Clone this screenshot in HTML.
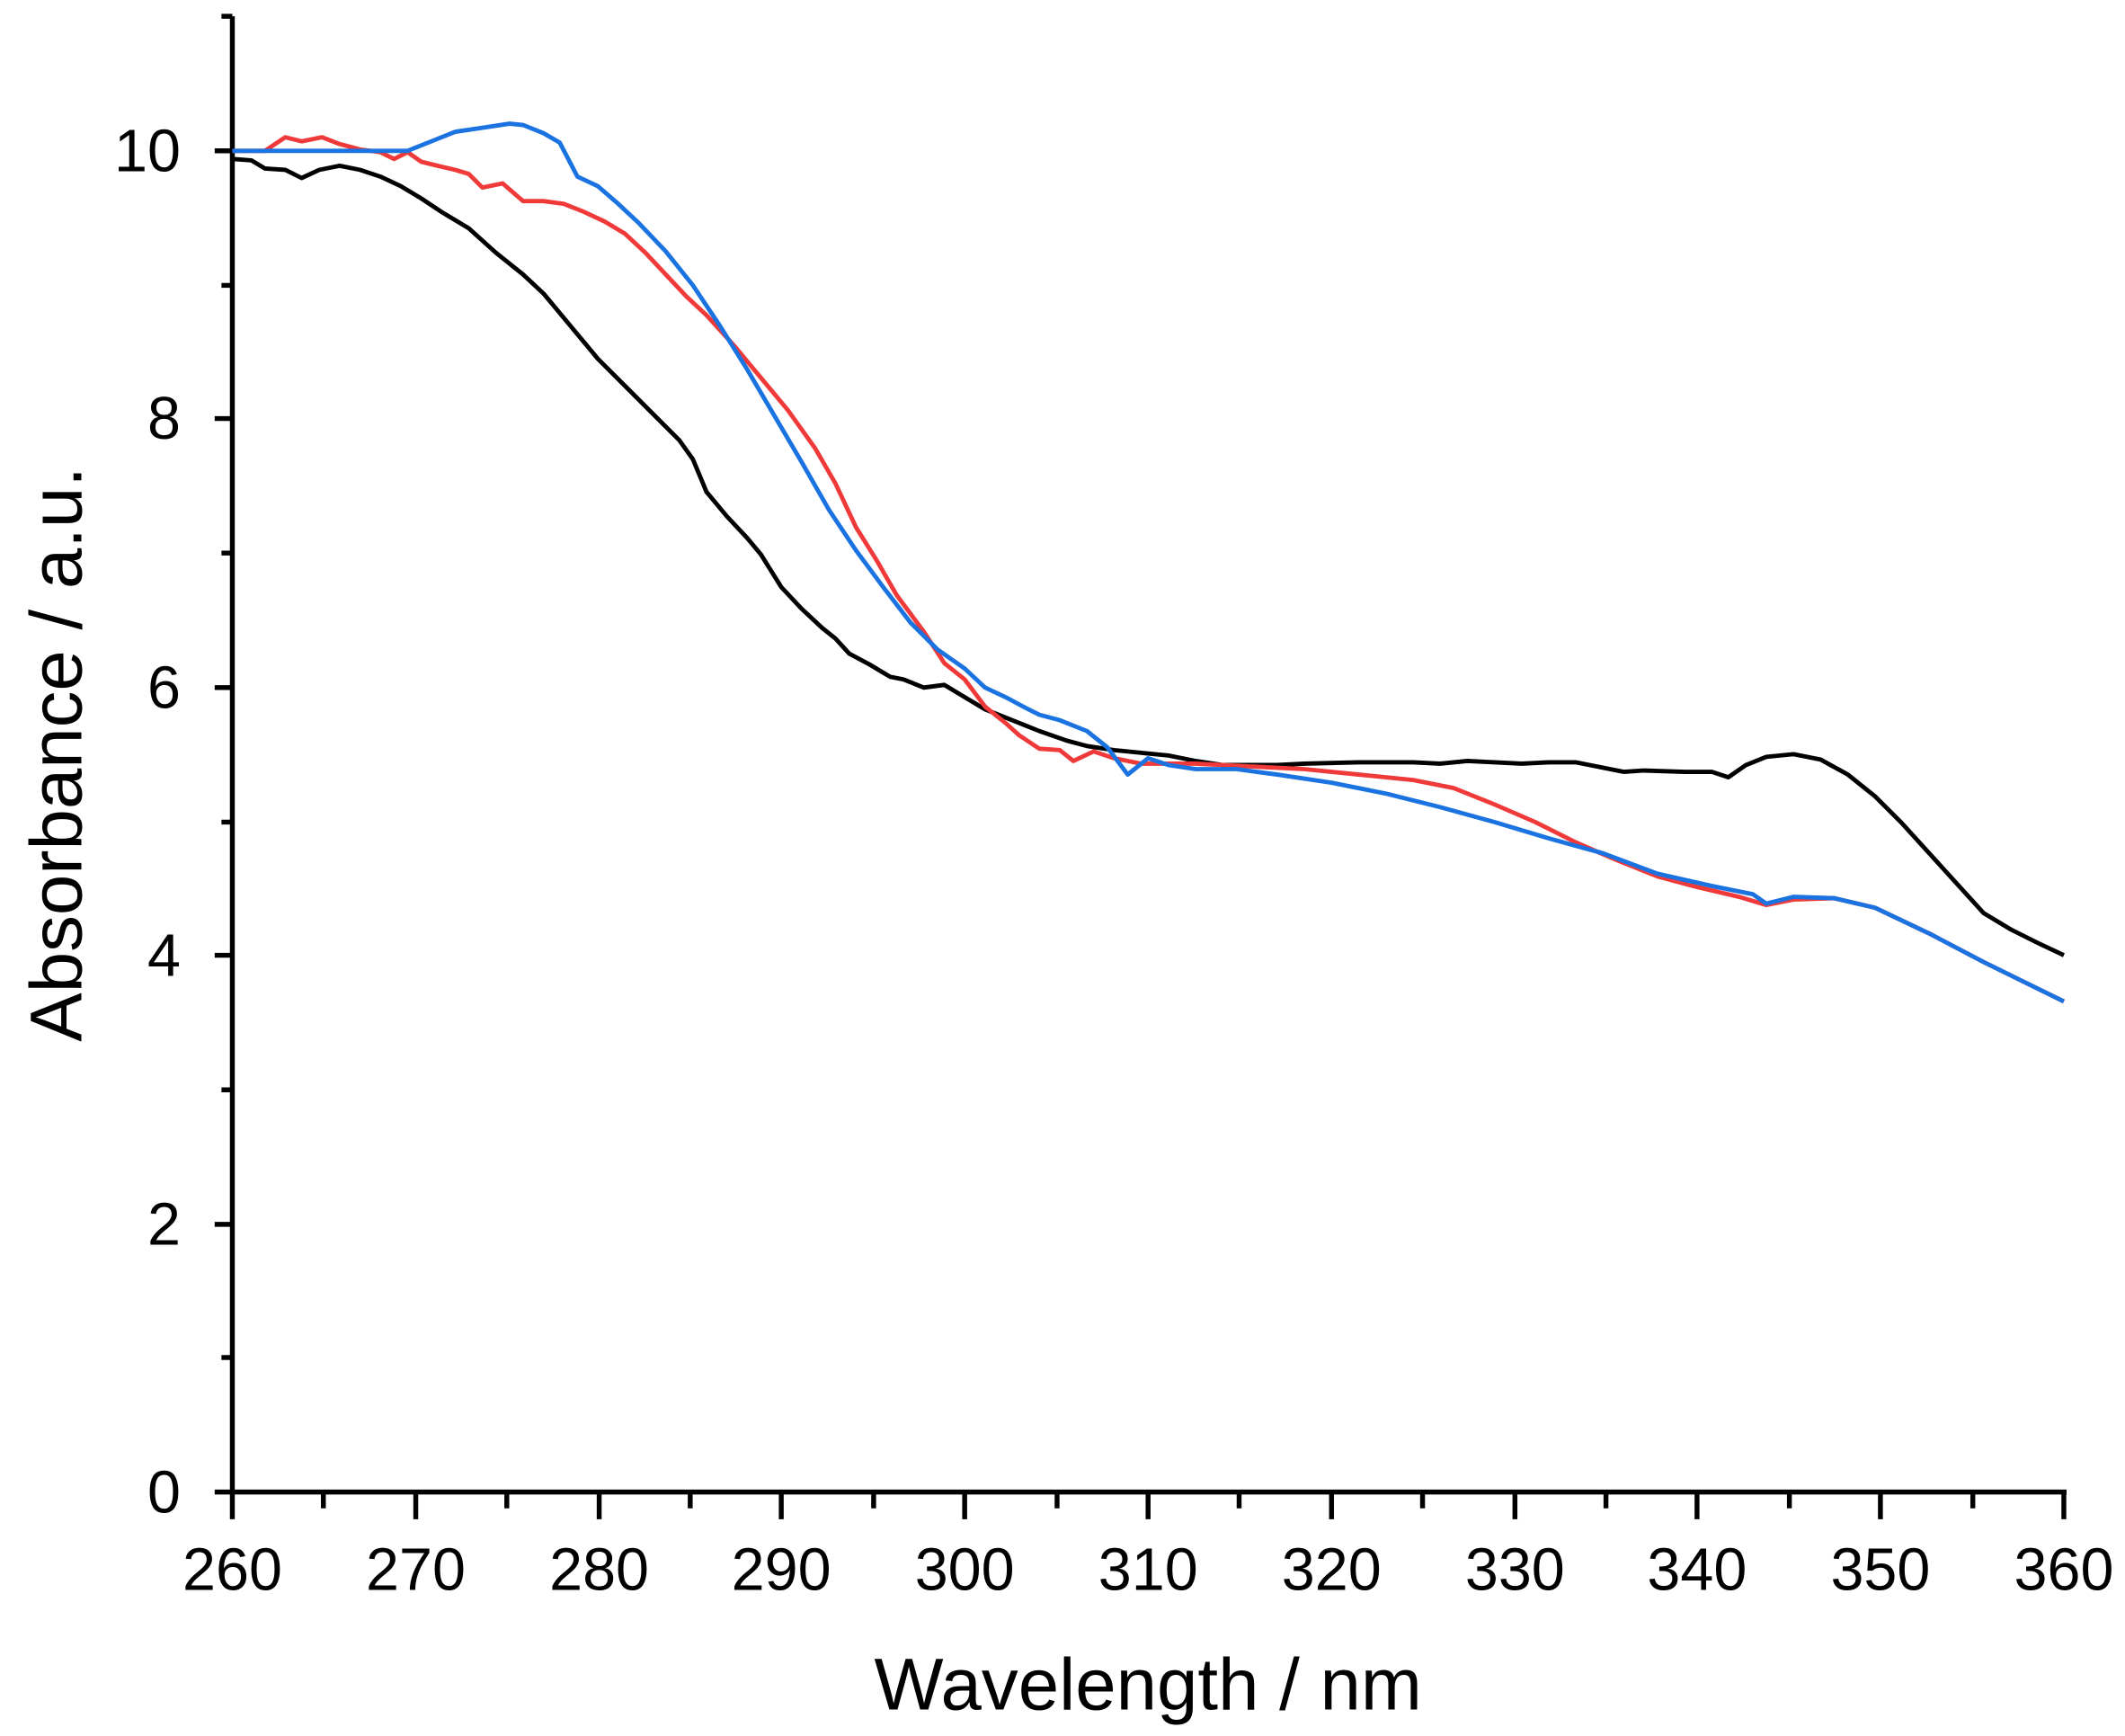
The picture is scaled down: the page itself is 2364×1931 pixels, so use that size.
<!DOCTYPE html>
<html><head><meta charset="utf-8"><style>html,body{margin:0;padding:0;background:#fff}svg{display:block}</style></head>
<body>
<svg width="2364" height="1931" viewBox="0 0 2364 1931" xmlns="http://www.w3.org/2000/svg">
<rect width="2364" height="1931" fill="#fff"/>
<g transform="scale(1.5115)" font-family="Liberation Sans, Arial, sans-serif" fill="#000">
<g stroke="#000" stroke-width="3.6" fill="none">
<line x1="171" y1="12" x2="171" y2="1098"/>
<line x1="169" y1="1098" x2="1521" y2="1098"/>
<path d="M158 1098H171M158 901H171M158 703H171M158 506H171M158 308H171M158 111H171
M163 999H171M163 802H171M163 605H171M163 407H171M163 210H171M163 12H171"/>
<path d="M171 1098V1118M306 1098V1118M441 1098V1118M575 1098V1118M710 1098V1118M845 1098V1118M980 1098V1118M1115 1098V1118M1249 1098V1118M1384 1098V1118M1519 1098V1118
M238 1098V1110M373 1098V1110M508 1098V1110M643 1098V1110M778 1098V1110M912 1098V1110M1047 1098V1110M1182 1098V1110M1317 1098V1110M1452 1098V1110"/>
</g>
<g font-size="44" text-anchor="end">
<text x="133" y="1113">0</text><text x="133" y="916">2</text><text x="133" y="718">4</text>
<text x="133" y="521">6</text><text x="133" y="323">8</text><text x="133" y="126">10</text>
</g>
<g font-size="44" text-anchor="middle">
<text x="171" y="1170">260</text><text x="306" y="1170">270</text><text x="441" y="1170">280</text>
<text x="575" y="1170">290</text><text x="710" y="1170">300</text><text x="845" y="1170">310</text>
<text x="980" y="1170">320</text><text x="1115" y="1170">330</text><text x="1249" y="1170">340</text>
<text x="1384" y="1170">350</text><text x="1519" y="1170">360</text>
</g>
<text x="845" y="1258" font-size="54" text-anchor="middle">Wavelength / nm</text>
<text transform="translate(60,555) rotate(-90)" font-size="54" text-anchor="middle">Absorbance / a.u.</text>
<g fill="none" stroke-width="3.2" stroke-linejoin="round">
<polyline stroke="#000" points="171,117 185,118 195,124 210,125 222,131 235,125 250,122 265,125 280,130 295,137 310,146 325,156 345,168 365,186 385,202 400,216 420,240 440,264 460,284 480,304 500,324 510,338 520,362 535,380 550,396 560,408 575,432 590,448 605,462 615,470 625,481 640,489 655,498 665,500 680,506 695,504 710,513 725,522 745,530 765,538 785,545 800,549 820,552 840,554 860,556 880,560 900,563 940,563 960,562 1000,561 1040,561 1060,562 1080,560 1100,561 1120,562 1140,561 1160,561 1180,565 1195,568 1210,567 1240,568 1260,568 1272,572 1285,563 1300,557 1320,555 1340,559 1360,570 1380,586 1400,606 1420,628 1440,650 1460,672 1480,684 1500,694 1519,703"/>
<polyline stroke="#f03a3a" points="171,111 195,111 210,101 222,104 237,101 250,106 265,110 280,112 290,117 300,112 310,119 322,122 335,125 345,128 355,138 370,135 385,148 400,148 415,150 430,156 445,163 460,172 475,186 490,202 505,218 520,232 540,254 560,278 580,302 600,330 615,356 630,388 645,412 660,438 680,465 695,488 710,500 725,520 740,532 750,541 765,551 780,552 790,560 805,553 820,558 840,562 860,562 880,562 920,564 960,566 1000,570 1040,574 1070,580 1100,592 1130,605 1160,620 1190,633 1220,645 1250,653 1280,660 1300,666 1320,662 1350,661 1380,668 1420,687 1460,708 1519,737"/>
<polyline stroke="#1a73e0" points="171,111 300,111 320,103 335,97 355,94 375,91 385,92 400,98 412,105 425,130 440,137 455,150 470,164 490,185 510,210 530,240 550,272 570,306 590,340 610,375 630,405 650,432 670,458 690,478 710,492 725,506 740,513 755,521 765,526 780,530 800,538 815,550 830,570 845,558 860,563 880,566 910,566 940,570 980,576 1020,584 1060,594 1100,605 1140,617 1180,628 1220,643 1260,652 1290,658 1300,665 1320,660 1350,661 1380,668 1420,687 1460,708 1519,737"/>
</g>
</g>
</svg>
</body></html>
